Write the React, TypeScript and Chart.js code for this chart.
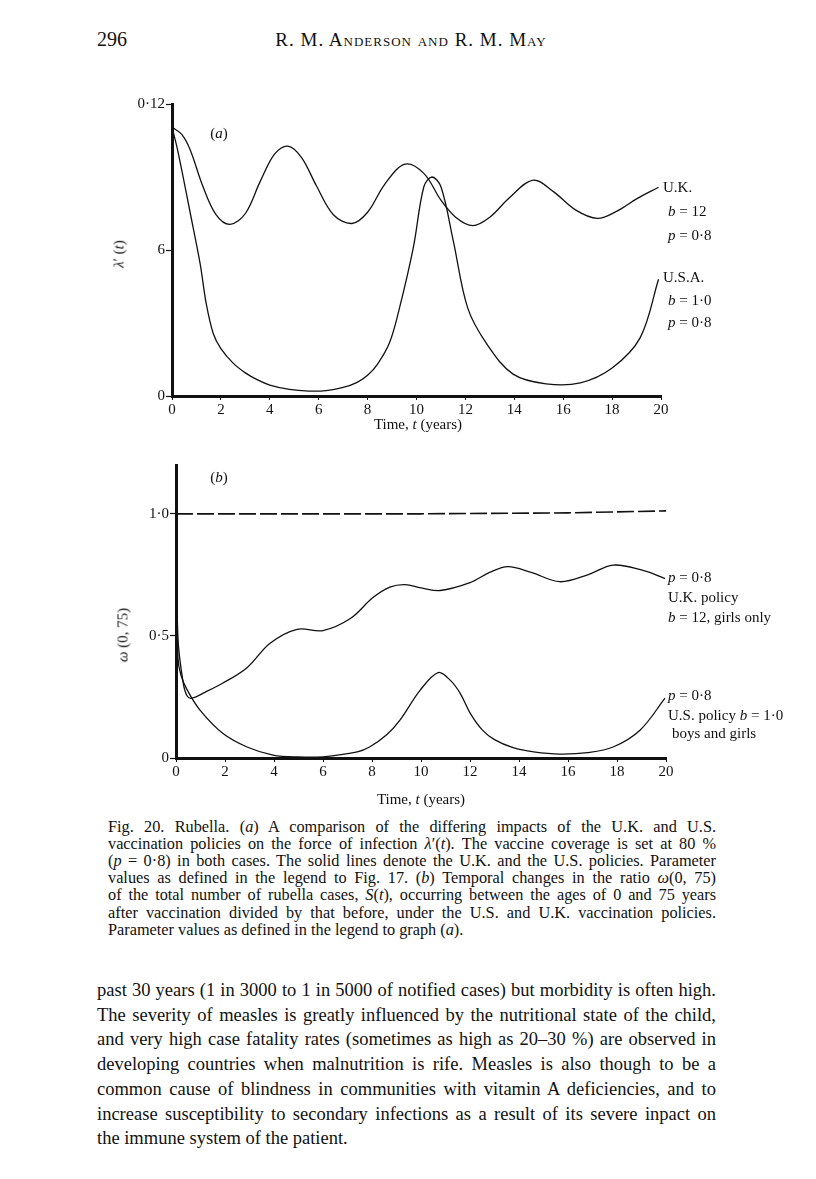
import React, { useEffect, useRef } from 'react';
import { Chart, registerables } from 'chart.js';

Chart.register(...registerables);

// ---------- data ----------
const xTickValues = [0, 2, 4, 6, 8, 10, 12, 14, 16, 18, 20];

// Panel (a): force of infection λ'(t)
const ukTimeA = [0, 0.4, 0.75, 1.25, 1.8, 2.37, 3.0, 3.6, 4.2, 4.74, 5.3, 5.9, 6.6, 7.36, 8.0, 8.7, 9.53, 10.3, 11.0, 11.6, 12.3, 13.0, 13.8, 14.77, 15.6, 16.5, 17.4, 18.2, 19.0, 19.9];
const ukLambda = [0.1105, 0.1075, 0.101, 0.0865, 0.0745, 0.0705, 0.075, 0.088, 0.0995, 0.1027, 0.098, 0.0865, 0.0745, 0.0709, 0.0755, 0.087, 0.0953, 0.0915, 0.0805, 0.0735, 0.07, 0.0735, 0.0815, 0.0887, 0.084, 0.0765, 0.073, 0.076, 0.081, 0.0858];
const usTimeA = [0, 0.2, 0.4, 0.75, 1.15, 1.4, 1.69, 2.0, 2.5, 3.0, 3.5, 4.0, 4.8, 5.6, 6.3, 7.0, 7.55, 8.0, 8.4, 8.9, 9.3, 9.87, 10.3, 10.63, 11.0, 11.5, 12.1, 12.9, 13.95, 15.3, 16.7, 18.0, 19.15, 19.9];
const usLambda = [0.1105, 0.1024, 0.0928, 0.075, 0.0544, 0.038, 0.0256, 0.0195, 0.0135, 0.0095, 0.0066, 0.0045, 0.0027, 0.002, 0.0022, 0.0035, 0.0055, 0.0085, 0.013, 0.022, 0.036, 0.061, 0.086, 0.09, 0.086, 0.064, 0.036, 0.021, 0.009, 0.005, 0.0054, 0.0115, 0.024, 0.048];
const yTickValuesA = [0, 0.06, 0.12];
const yTickLabelsA = ['0', '6', '0·12'];

// Panel (b): ratio ω(0, 75)
const ukTimeB = [0, 0.08, 0.29, 0.45, 0.65, 1.2, 1.9, 2.9, 3.84, 4.94, 6.0, 7.1, 8.04, 8.73, 9.35, 10.0, 10.78, 12.0, 12.8, 13.55, 14.5, 15.67, 16.8, 17.84, 19.0, 19.96];
const ukOmega = [1.0, 0.49, 0.31, 0.255, 0.245, 0.27, 0.306, 0.37, 0.47, 0.527, 0.522, 0.57, 0.657, 0.7, 0.71, 0.697, 0.686, 0.718, 0.76, 0.784, 0.76, 0.722, 0.75, 0.79, 0.77, 0.735];
const usTimeB = [0, 0.08, 0.2, 0.45, 0.98, 1.92, 2.9, 3.96, 5.0, 6.0, 7.4, 7.9, 8.6, 9.14, 9.96, 10.7, 11.2, 11.6, 12.0, 12.5, 13.0, 13.76, 14.6, 15.67, 16.8, 17.84, 18.94, 19.96];
const usOmega = [1.0, 0.41, 0.34, 0.28, 0.196, 0.1, 0.045, 0.012, 0.004, 0.005, 0.025, 0.045, 0.095, 0.155, 0.277, 0.35, 0.318, 0.265, 0.185, 0.115, 0.075, 0.042, 0.025, 0.016, 0.022, 0.045, 0.114, 0.245];
const refTimeB = [0, 10, 16, 20];
const refOmega = [1.0, 1.0, 1.004, 1.012];
const yTickValuesB = [0, 0.5, 1.0];
const yTickLabelsB = ['0', '0·5', '1·0'];

const SERIF = '"Liberation Serif", "Times New Roman", serif';

function pts(xs: number[], ys: number[]) {
  return xs.map((x, i) => ({ x, y: ys[i] }));
}

type PanelProps = {
  left: number; top: number; width: number; height: number;
  yWidth: number; xHeight: number;
  padding: { left: number; right: number; top: number; bottom: number };
  yMax: number; yTicks: number[]; yLabels: string[];
  datasets: any[];
};

function Panel(p: PanelProps) {
  const ref = useRef<HTMLCanvasElement | null>(null);
  useEffect(() => {
    if (!ref.current) return;
    const tickFont = { family: SERIF, size: 15 };
    const chart = new Chart(ref.current, {
      type: 'line',
      data: { datasets: p.datasets },
      options: {
        responsive: false,
        animation: false,
        devicePixelRatio: 1,
        layout: { padding: p.padding },
        plugins: { legend: { display: false }, tooltip: { enabled: false } },
        elements: { point: { radius: 0 } },
        scales: {
          x: {
            type: 'linear',
            min: 0,
            max: 20,
            afterBuildTicks: (s: any) => { s.ticks = xTickValues.map((v) => ({ value: v })); },
            afterFit: (s: any) => { s.height = p.xHeight; },
            ticks: { color: '#111', font: tickFont, padding: 1, maxRotation: 0, autoSkip: false },
            grid: { drawOnChartArea: false, drawTicks: true, tickLength: 4, color: '#111', tickWidth: 1 },
            border: { display: true, color: '#111', width: 3 },
          },
          y: {
            type: 'linear',
            min: 0,
            max: p.yMax,
            afterBuildTicks: (s: any) => { s.ticks = p.yTicks.map((v) => ({ value: v })); },
            afterFit: (s: any) => { s.width = p.yWidth; },
            ticks: {
              color: '#111',
              font: tickFont,
              padding: 1,
              autoSkip: false,
              callback: (v: any) => {
                const i = p.yTicks.findIndex((t) => Math.abs(t - Number(v)) < 1e-9);
                return i >= 0 ? p.yLabels[i] : '';
              },
            },
            grid: { drawOnChartArea: false, drawTicks: true, tickLength: 6, color: '#111', tickWidth: 1.2 },
            border: { display: true, color: '#111', width: 3 },
          },
        },
      },
    } as any);
    return () => chart.destroy();
  }, []);
  return (
    <canvas
      ref={ref}
      width={p.width}
      height={p.height}
      style={{ position: 'absolute', left: p.left, top: p.top, width: p.width, height: p.height }}
    />
  );
}

const lineStyle = {
  borderColor: '#111',
  borderWidth: 1.3,
  pointRadius: 0,
  fill: false,
  tension: 0.35,
};

const datasetsA = [
  { ...lineStyle, data: pts(ukTimeA, ukLambda) },
  { ...lineStyle, data: pts(usTimeA, usLambda) },
];
const datasetsB = [
  { ...lineStyle, borderWidth: 1.6, borderDash: [17, 4], tension: 0, data: pts(refTimeB, refOmega) },
  { ...lineStyle, data: pts(ukTimeB, ukOmega) },
  { ...lineStyle, data: pts(usTimeB, usOmega) },
];

function T(props: { x: number; y: number; size?: number; children: any; center?: boolean; style?: any }) {
  const size = props.size ?? 15;
  return (
    <div
      style={{
        position: 'absolute',
        left: props.x,
        top: props.y,
        transform: props.center ? 'translate(-50%, -50%)' : 'translate(0, -50%)',
        fontFamily: SERIF,
        fontSize: size,
        lineHeight: 1,
        whiteSpace: 'nowrap',
        color: '#111',
        ...(props.style || {}),
      }}
    >
      {props.children}
    </div>
  );
}

function Line(props: { x: number; y: number; w: number; size: number; lh: number; last?: boolean; children: any }) {
  return (
    <div
      style={{
        position: 'absolute',
        left: props.x,
        top: props.y - props.lh / 2,
        width: props.w,
        height: props.lh,
        lineHeight: props.lh + 'px',
        fontFamily: SERIF,
        fontSize: props.size,
        textAlign: 'justify',
        textAlignLast: props.last ? 'left' : 'justify',
        whiteSpace: 'nowrap',
        color: '#111',
      } as any}
    >
      {props.children}
    </div>
  );
}

export default function App() {
  const capY0 = 826;
  const capDy = 17.2;
  const bodyY0 = 990;
  const bodyDy = 24.7;
  const cap = [
    <>Fig. 20. Rubella. (<i>a</i>) A comparison of the differing impacts of the U.K. and U.S.</>,
    <>vaccination policies on the force of infection <i>λ</i>′(<i>t</i>). The vaccine coverage is set at 80 %</>,
    <>(<i>p</i> = 0·8) in both cases. The solid lines denote the U.K. and the U.S. policies. Parameter</>,
    <>values as defined in the legend to Fig. 17. (<i>b</i>) Temporal changes in the ratio <i>ω</i>(0, 75)</>,
    <>of the total number of rubella cases, <i>S</i>(<i>t</i>), occurring between the ages of 0 and 75 years</>,
    <>after vaccination divided by that before, under the U.S. and U.K. vaccination policies.</>,
    <>Parameter values as defined in the legend to graph (<i>a</i>).</>,
  ];
  const body = [
    'past 30 years (1 in 3000 to 1 in 5000 of notified cases) but morbidity is often high.',
    'The severity of measles is greatly influenced by the nutritional state of the child,',
    'and very high case fatality rates (sometimes as high as 20–30 %) are observed in',
    'developing countries when malnutrition is rife. Measles is also though to be a',
    'common cause of blindness in communities with vitamin A deficiencies, and to',
    'increase susceptibility to secondary infections as a result of its severe inpact on',
    'the immune system of the patient.',
  ];
  return (
    <div style={{ position: 'absolute', left: 0, top: 0, width: 816, height: 1179, background: '#fff', overflow: 'hidden' }}>
      {/* running header */}
      <T x={97} y={39} size={20}>296</T>
      <T x={411} y={39} size={19} center style={{ fontVariant: 'small-caps', letterSpacing: 1 }}>R. M. Anderson and R. M. May</T>

      {/* panel (a) */}
      <Panel
        left={100} top={90} width={620} height={350}
        yWidth={72} xHeight={30}
        padding={{ left: 0, right: 59, top: 14, bottom: 14 }}
        yMax={0.12} yTicks={yTickValuesA} yLabels={yTickLabelsA}
        datasets={datasetsA}
      />
      <T x={219} y={133} center>(<i>a</i>)</T>
      <T x={119} y={254} size={15} center style={{ transform: 'translate(-50%, -50%) rotate(-90deg)' }}><i>λ</i>′ (<i>t</i>)</T>
      <T x={418} y={424} center>Time, <i>t</i> (years)</T>
      <T x={663} y={187}>U.K.</T>
      <T x={668} y={211}><i>b</i> = 12</T>
      <T x={668} y={235}><i>p</i> = 0·8</T>
      <T x={663} y={277}>U.S.A.</T>
      <T x={668} y={300}><i>b</i> = 1·0</T>
      <T x={668} y={322}><i>p</i> = 0·8</T>

      {/* panel (b) */}
      <Panel
        left={100} top={450} width={620} height={360}
        yWidth={76} xHeight={30}
        padding={{ left: 0, right: 54, top: 15, bottom: 22 }}
        yMax={1.2} yTicks={yTickValuesB} yLabels={yTickLabelsB}
        datasets={datasetsB}
      />
      <T x={219} y={477} center>(<i>b</i>)</T>
      <T x={123} y={635} size={15} center style={{ transform: 'translate(-50%, -50%) rotate(-90deg)' }}><i>ω</i> (0, 75)</T>
      <T x={421} y={799} center>Time, <i>t</i> (years)</T>
      <T x={668} y={577}><i>p</i> = 0·8</T>
      <T x={668} y={597}>U.K. policy</T>
      <T x={668} y={617}><i>b</i> = 12, girls only</T>
      <T x={668} y={695}><i>p</i> = 0·8</T>
      <T x={668} y={715}>U.S. policy <i>b</i> = 1·0</T>
      <T x={672} y={733}>boys and girls</T>

      {/* caption */}
      {cap.map((c, i) => (
        <Line key={'c' + i} x={108} y={capY0 + i * capDy} w={608} size={16.3} lh={17} last={i === cap.length - 1}>{c}</Line>
      ))}

      {/* body text */}
      {body.map((b, i) => (
        <Line key={'b' + i} x={97} y={bodyY0 + i * bodyDy} w={619} size={18.5} lh={24} last={i === body.length - 1}>{b}</Line>
      ))}
    </div>
  );
}
